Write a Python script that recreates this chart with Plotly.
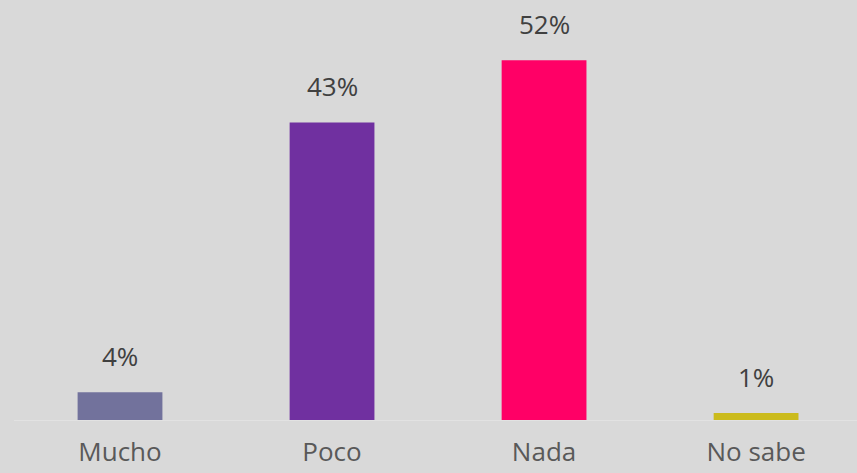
import plotly.graph_objects as go

categories = ["Mucho", "Poco", "Nada", "No sabe"]
values = [4, 43, 52, 1]
labels = ["4%", "43%", "52%", "1%"]
colors = ["#72729c", "#7030a0", "#ff0066", "#cbbb1c"]

fig = go.Figure()
fig.add_trace(go.Bar(
    x=list(range(len(categories))), y=values, marker_color=colors,
    marker_line_width=0, width=0.4, hoverinfo="skip"
))
for i, (v, t) in enumerate(zip(values, labels)):
    fig.add_annotation(x=i, y=v, text=t, showarrow=False, yanchor="middle",
                       yshift=36, font=dict(family="Open Sans, Noto Sans", size=26, color="#404040"))

fig.update_layout(
    width=857, height=473,
    paper_bgcolor="#d9d9d9", plot_bgcolor="#d9d9d9",
    margin=dict(l=14, r=0, t=0, b=53),
    showlegend=False,
    xaxis=dict(range=[-0.5, 3.476], tickmode="array", tickvals=list(range(len(categories))),
               ticktext=categories, showgrid=False, zeroline=False, automargin=False,
               showline=True, linecolor="#e2e2e2", linewidth=1,
               tickfont=dict(family="Open Sans, Noto Sans", size=26, color="#595959"),
               ticks="", ticklen=0, ticklabelstandoff=9),
    yaxis=dict(range=[0, 60.7], visible=False, showgrid=False, zeroline=False, automargin=False),
)
fig.write_html("out.html", config={"displayModeBar": False},
               post_script="document.body.style.margin='0';document.body.style.background='#d9d9d9';")
